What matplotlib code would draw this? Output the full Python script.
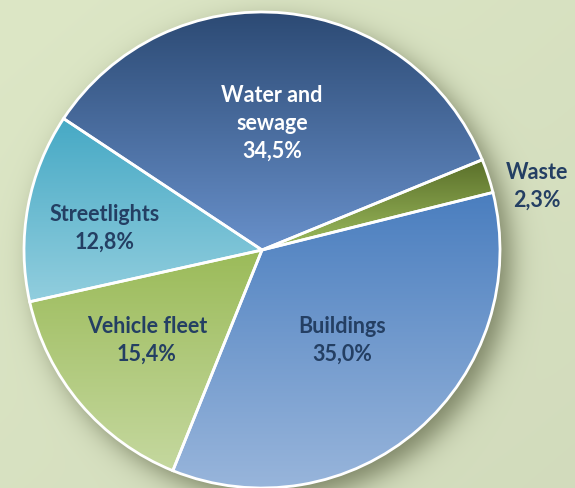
import numpy as np
import matplotlib
matplotlib.use('Agg')
import matplotlib.pyplot as plt
from matplotlib.colors import to_rgb

# data
categories = ['Waste', 'Water and\nsewage', 'Streetlights', 'Vehicle fleet', 'Buildings']
shares = [2.3, 34.5, 12.8, 15.4, 35.0]
share_labels = ['2,3%', '34,5%', '12,8%', '15,4%', '35,0%']

# styling
TOP_COLORS = ['#5a6f2a', '#2c4a74', '#46a9c5', '#9bbb59', '#4a7ebf']
BOTTOM_COLORS = ['#9dbc5d', '#6890ca', '#92cede', '#c5d89f', '#98b5db']
TEXT_COLORS = ['#243f63', '#ffffff', '#243f63', '#243f63', '#243f63']
LABEL_POS = [(537, 186), (272, 123), (105, 228), (147, 340), (342, 340)]  # pixel positions

W, H = 575, 488
CX, CY, R = 262, 250, 238

fig = plt.figure(figsize=(W / 100, H / 100), dpi=100)
ax = fig.add_axes([0, 0, 1, 1])

# ── background + soft shadow ──────────────────────────
yy, xx = np.mgrid[0:H, 0:W].astype(float)
bg = np.array(to_rgb('#dde7c6'))
img = np.ones((H, W, 3)) * bg
shade = 1 - 0.025 * (xx / W) - 0.025 * (yy / H)
img *= shade[..., None]
d = np.hypot(xx - CX - 10, yy - CY - 10) - R
alpha = 0.75 / (1 + np.exp(d / 8.0))
shadow = np.array(to_rgb('#5e6546'))
img = img * (1 - alpha[..., None]) + shadow * alpha[..., None]
ax.imshow(img, extent=(0, W, 0, H), origin='upper', aspect='auto', zorder=0)

# ── pie ───────────────────────────────────────────────
wedges, _ = ax.pie(shares, startangle=14, counterclock=True,
                   center=(CX, H - CY), radius=R,
                   wedgeprops=dict(facecolor='none', edgecolor='white', linewidth=2.0, zorder=3))

grad = np.linspace(0, 1, 256)[:, None, None]
for w, c_top, c_bot in zip(wedges, TOP_COLORS, BOTTOM_COLORS):
    w.set_facecolor('none')
    bb = w.get_path().get_extents()
    g = np.array(to_rgb(c_top)) * (1 - grad) + np.array(to_rgb(c_bot)) * grad
    im = ax.imshow(g, extent=(bb.x0, bb.x1, bb.y0, bb.y1), origin='upper',
                   aspect='auto', zorder=2, interpolation='bilinear')
    im.set_clip_path(w)

# ── labels ────────────────────────────────────────────
for cat, pct, col, (px, py) in zip(categories, share_labels, TEXT_COLORS, LABEL_POS):
    ax.text(px, H - py, f'{cat}\n{pct}', ha='center', va='center', color=col,
            fontsize=15.5, fontweight='bold', family='Lato', linespacing=1.4, zorder=5)

ax.set_xlim(0, W)
ax.set_ylim(0, H)
ax.axis('off')

plt.savefig('out.png', dpi=100)
plt.close(fig)
